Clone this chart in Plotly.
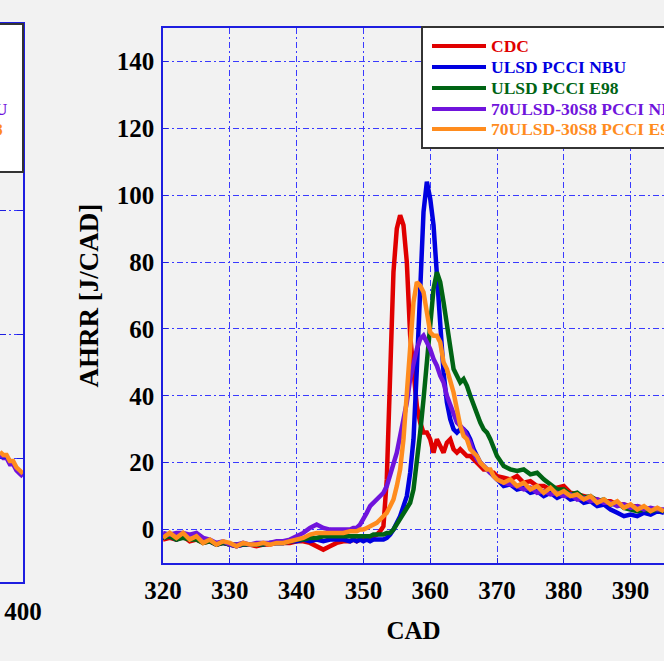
import plotly.graph_objects as go

# ---------------- data ----------------
CAD = [320, 321, 322, 323, 324, 325, 326, 327, 328, 329, 330, 331, 332, 333, 334,
       335, 336, 337, 338, 339, 340, 341, 342, 343, 344, 345, 346, 347, 348,
       348.5, 349, 349.5, 350, 350.5, 351, 351.5, 352, 352.5, 353, 353.5, 354,
       354.5, 355, 355.5, 356, 356.5, 357, 357.5, 358, 358.5, 359, 359.5, 360,
       360.5, 361, 361.5, 362, 362.5, 363, 363.5, 364, 364.5, 365, 365.5, 366,
       366.5, 367, 367.5, 368, 368.5, 369, 369.5, 370,
       371, 372, 373, 374, 375, 376, 377, 378, 379, 380, 381, 382, 383, 384,
       385, 386, 387, 388, 389, 390, 391, 392, 393, 394, 395]

CDC = [-3, -2.5, -3, -2, -3.5, -3, -4, -3.5, -4.5, -4, -4.5, -5, -4.5, -4.5, -5,
       -4.5, -4.5, -4, -4, -4, -3.5, -3.5, -4, -5, -6, -5, -4, -3.5, -3.5,
       -3, -3.5, -3, -3, -3, -2.5, -2, -1.5, -0.5, 1, 15, 52,
       77, 90, 94, 91, 80, 58, 46, 37, 32, 29, 29, 27,
       23, 27, 25, 23, 26, 27, 24, 23, 24, 23, 22, 22,
       21, 20, 19, 18, 18, 17, 17, 16,
       15.5, 15, 16, 14, 14.5, 13, 13, 12, 12.5, 13, 11, 10.5, 10, 9.5,
       9, 8.5, 8.5, 7.5, 7.5, 7, 7, 6.5, 6, 6, 5.5]

ULSD_NBU = [-2.5, -2, -3, -2, -3, -2.5, -3.5, -3.5, -4.5, -4, -4.5, -5, -4.5, -4.5, -4.5,
            -4.5, -4, -4, -4, -3.5, -3.5, -3, -3.5, -3, -3.5, -3, -3, -3, -3.5,
            -3, -3.5, -3, -3.5, -3, -3.5, -3, -3, -3, -3, -2.5, -1.5,
            0, 2, 4, 7, 10, 17, 27, 48, 74, 95, 104, 99,
            91, 75, 58, 47, 38, 33, 30, 29, 30, 30, 29, 27,
            24, 22, 20, 19, 18, 17, 16, 15,
            13, 13.5, 12, 12.5, 11, 11.5, 10, 11, 9.5, 10.5, 9, 9.5, 8, 8.5,
            7, 7.5, 6, 5, 4, 4.5, 4, 5, 4.5, 5.5, 5]

ULSD_E98 = [-2.5, -2, -3, -2.5, -3, -3, -4, -3.5, -4.5, -4, -4.5, -4.5, -4.5, -4.5, -4.5,
            -4.5, -4, -4, -4, -3.5, -3, -3, -2.5, -2.5, -2, -2, -2, -2, -2,
            -2, -2, -2, -2, -2, -2, -1.5, -1.5, -1.5, -1.5, -1, -1,
            0, 1.5, 3.5, 5, 6, 8, 12, 20, 29, 39, 50, 60,
            72, 77, 74, 68, 61, 53, 48, 46, 44, 45, 43, 40,
            37, 34, 32, 30, 29, 27, 24, 22,
            19, 18, 17.5, 18, 16.5, 17, 15, 13.5, 12, 12, 10.5, 11, 9.5, 10,
            8.5, 9, 7.5, 8, 6.5, 6, 5.5, 6, 5.5, 6, 5.5]

BLEND_NBU = [-1, -1.5, -1, -1, -1.5, -1, -2.5, -3, -4, -3.5, -4.5, -4.5, -4, -4.5, -4,
             -4, -4, -3.5, -3.5, -3, -2, -1, 0.5, 1.5, 0.5, 0, 0, 0, 0,
             0.5, 0.5, 1.5, 3, 5, 7, 8, 9, 10, 11, 13, 16,
             20, 23, 28, 33, 38, 45, 50, 54, 57, 58, 56, 54,
             51, 49, 46, 44, 40, 37, 34, 32, 31, 30, 28, 26,
             23, 21, 20, 19, 18, 17, 16, 15,
             14, 13.5, 13, 12, 12.5, 11, 11.5, 10.5, 11, 10, 10.5, 9, 9.5, 8.5,
             9, 8, 8, 7, 7.5, 6.5, 7, 6, 6.5, 6, 6]

BLEND_E98 = [-2.5, -1, -2.5, -1, -3, -2, -4, -3, -4.5, -3.5, -4, -5, -4, -4.5, -4.5,
             -4, -4.5, -4, -4, -3.5, -3, -2.5, -1.5, -1, -1, -1, -1, -1, -0.5,
             -0.5, -0.5, 0, 0, 0.5, 1, 1.5, 2, 3, 4, 5, 7,
             9, 13, 18, 27, 40, 55, 68, 74, 73, 71, 64, 59,
             58, 58, 56, 50, 48, 45, 41, 36, 31, 28, 27, 24,
             23, 22, 20, 19, 18, 18, 16, 15,
             14, 15, 13, 14, 12, 13, 11, 12.5, 10.5, 11.5, 10, 10.5, 9, 10,
             8, 9, 7.5, 8.5, 6.5, 7.5, 6, 7, 5.5, 6.5, 5.5]

# tail of the neighbouring (cropped) panel on the left
LEFT_CAD = [396.5, 397, 397.5, 398, 398.5, 399, 399.5, 400]
LEFT_BLEND_NBU = [20.5, 20, 20, 19, 19, 18, 17.5, 17]
LEFT_BLEND_E98 = [21, 20.5, 20.5, 19.5, 19.5, 18.5, 18, 17.5]

NAMES = ["CDC", "ULSD PCCI NBU", "ULSD PCCI E98",
         "70ULSD-30S8 PCCI NBU", "70ULSD-30S8 PCCI E98"]
SERIES = [CDC, ULSD_NBU, ULSD_E98, BLEND_NBU, BLEND_E98]
COLORS = ["#e00000", "#0000e0", "#006414", "#7014dc", "#ff8c1e"]

X_TICKS = [320, 330, 340, 350, 360, 370, 380, 390]
Y_TICKS = [0, 20, 40, 60, 80, 100, 120, 140]

# ---------------- figure ----------------
W, H = 664, 661
FONT = "Liberation Serif, Times New Roman, serif"
AXIS_BLUE = "#1e1ee0"
GRID_BLUE = "#3a3aff"
BG = "#f2f2f2"
LW = 4.5

fig = go.Figure()

for name, vals, col in zip(NAMES, SERIES, COLORS):
    fig.add_trace(go.Scatter(x=CAD, y=vals, mode="lines", name=name,
                             line=dict(color=col, width=LW), showlegend=False,
                             xaxis="x", yaxis="y"))

fig.add_trace(go.Scatter(x=LEFT_CAD, y=LEFT_BLEND_NBU, mode="lines",
                         line=dict(color=COLORS[3], width=LW), showlegend=False,
                         xaxis="x2", yaxis="y2"))
fig.add_trace(go.Scatter(x=LEFT_CAD, y=LEFT_BLEND_E98, mode="lines",
                         line=dict(color=COLORS[4], width=LW), showlegend=False,
                         xaxis="x2", yaxis="y2"))

def px_x(p):
    return p / W

def px_y(p):
    return (H - p) / H

tickfont = dict(family=FONT, size=25, color="black", weight="bold")
grid = dict(showgrid=True, gridcolor=GRID_BLUE, gridwidth=1,
            griddash="6px,3px,2px,3px", zeroline=False)

fig.update_layout(
    width=W, height=H,
    margin=dict(l=0, r=0, t=0, b=0, pad=0),
    paper_bgcolor=BG, plot_bgcolor=BG,
    xaxis=dict(domain=[px_x(163), 1.0], range=[320, 395], tickvals=X_TICKS,
               showline=True, linecolor=AXIS_BLUE, linewidth=1.5, mirror=True,
               ticks="inside", ticklen=5, tickcolor=AXIS_BLUE, automargin=False,
               tickfont=tickfont, ticklabelstandoff=4,
               title=dict(text="CAD", font=dict(family=FONT, size=25,
                                                 color="black", weight="bold"),
                          standoff=19),
               anchor="y", **grid),
    yaxis=dict(domain=[px_y(563), px_y(28)], range=[-10, 150], tickvals=Y_TICKS,
               showline=True, linecolor=AXIS_BLUE, linewidth=1.5, mirror=False,
               ticks="inside", ticklen=5, tickcolor=AXIS_BLUE, automargin=False,
               tickfont=tickfont, ticklabelstandoff=2,
               title=dict(text="AHRR [J/CAD]", font=dict(family=FONT, size=27,
                                                          color="black", weight="bold"),
                          standoff=10),
               anchor="x", **grid),
    xaxis2=dict(domain=[0, px_x(23)], range=[396.5, 400], tickvals=[400],
                showline=True, linecolor=AXIS_BLUE, linewidth=1.5, mirror=True,
                ticks="", showgrid=False, zeroline=False, automargin=False,
                tickfont=tickfont, ticklabelstandoff=6, anchor="y2"),
    yaxis2=dict(domain=[px_y(582), px_y(24)], range=[0, 90], dtick=20,
                showline=True, linecolor=AXIS_BLUE, linewidth=1.5, mirror="ticks",
                ticks="inside", ticklen=6, tickcolor=AXIS_BLUE, automargin=False,
                showticklabels=False, anchor="x2", **grid),
)

# ---------------- legends (drawn as boxes with colored labels) ----------------
shapes = []
annotations = []
LEG_FONT = 17.5

# main legend
LEG_L, LEG_T, LEG_B = 422, 27, 148
shapes.append(dict(type="rect", xref="paper", yref="paper",
                   x0=px_x(LEG_L), x1=px_x(W + 40), y0=px_y(LEG_B), y1=px_y(LEG_T),
                   fillcolor="white", line=dict(color="#333333", width=2), layer="above"))
ROWS = [46, 67, 88, 109, 129]
for name, col, ry in zip(NAMES, COLORS, ROWS):
    shapes.append(dict(type="line", xref="paper", yref="paper",
                       x0=px_x(432), x1=px_x(486), y0=px_y(ry), y1=px_y(ry),
                       line=dict(color=col, width=4), layer="above"))
    annotations.append(dict(xref="paper", yref="paper", x=px_x(489), y=px_y(ry),
                            xanchor="left", yanchor="middle", showarrow=False,
                            text=name, font=dict(family=FONT, size=LEG_FONT, color=col,
                                                 weight="bold")))

# left (cropped) panel legend
shapes.append(dict(type="rect", xref="paper", yref="paper",
                   x0=px_x(-200), x1=px_x(23), y0=px_y(172), y1=px_y(24),
                   fillcolor="white", line=dict(color="#333333", width=2), layer="above"))
annotations.append(dict(xref="paper", yref="paper", x=px_x(10), y=px_y(109),
                        xanchor="right", yanchor="middle", showarrow=False,
                        text=NAMES[3], font=dict(family=FONT, size=LEG_FONT,
                                                 color=COLORS[3], weight="bold")))
annotations.append(dict(xref="paper", yref="paper", x=px_x(5), y=px_y(129),
                        xanchor="right", yanchor="middle", showarrow=False,
                        text=NAMES[4], font=dict(family=FONT, size=LEG_FONT,
                                                 color=COLORS[4], weight="bold")))

fig.update_layout(shapes=shapes, annotations=annotations)

# remove the browser's default page margin so the figure starts at the window corner
BODY_FIX = ("document.body.style.margin='0';"
            "document.body.style.background='%s';" % BG)
fig.write_html("out.html", post_script=BODY_FIX,
               config={"displayModeBar": False})
